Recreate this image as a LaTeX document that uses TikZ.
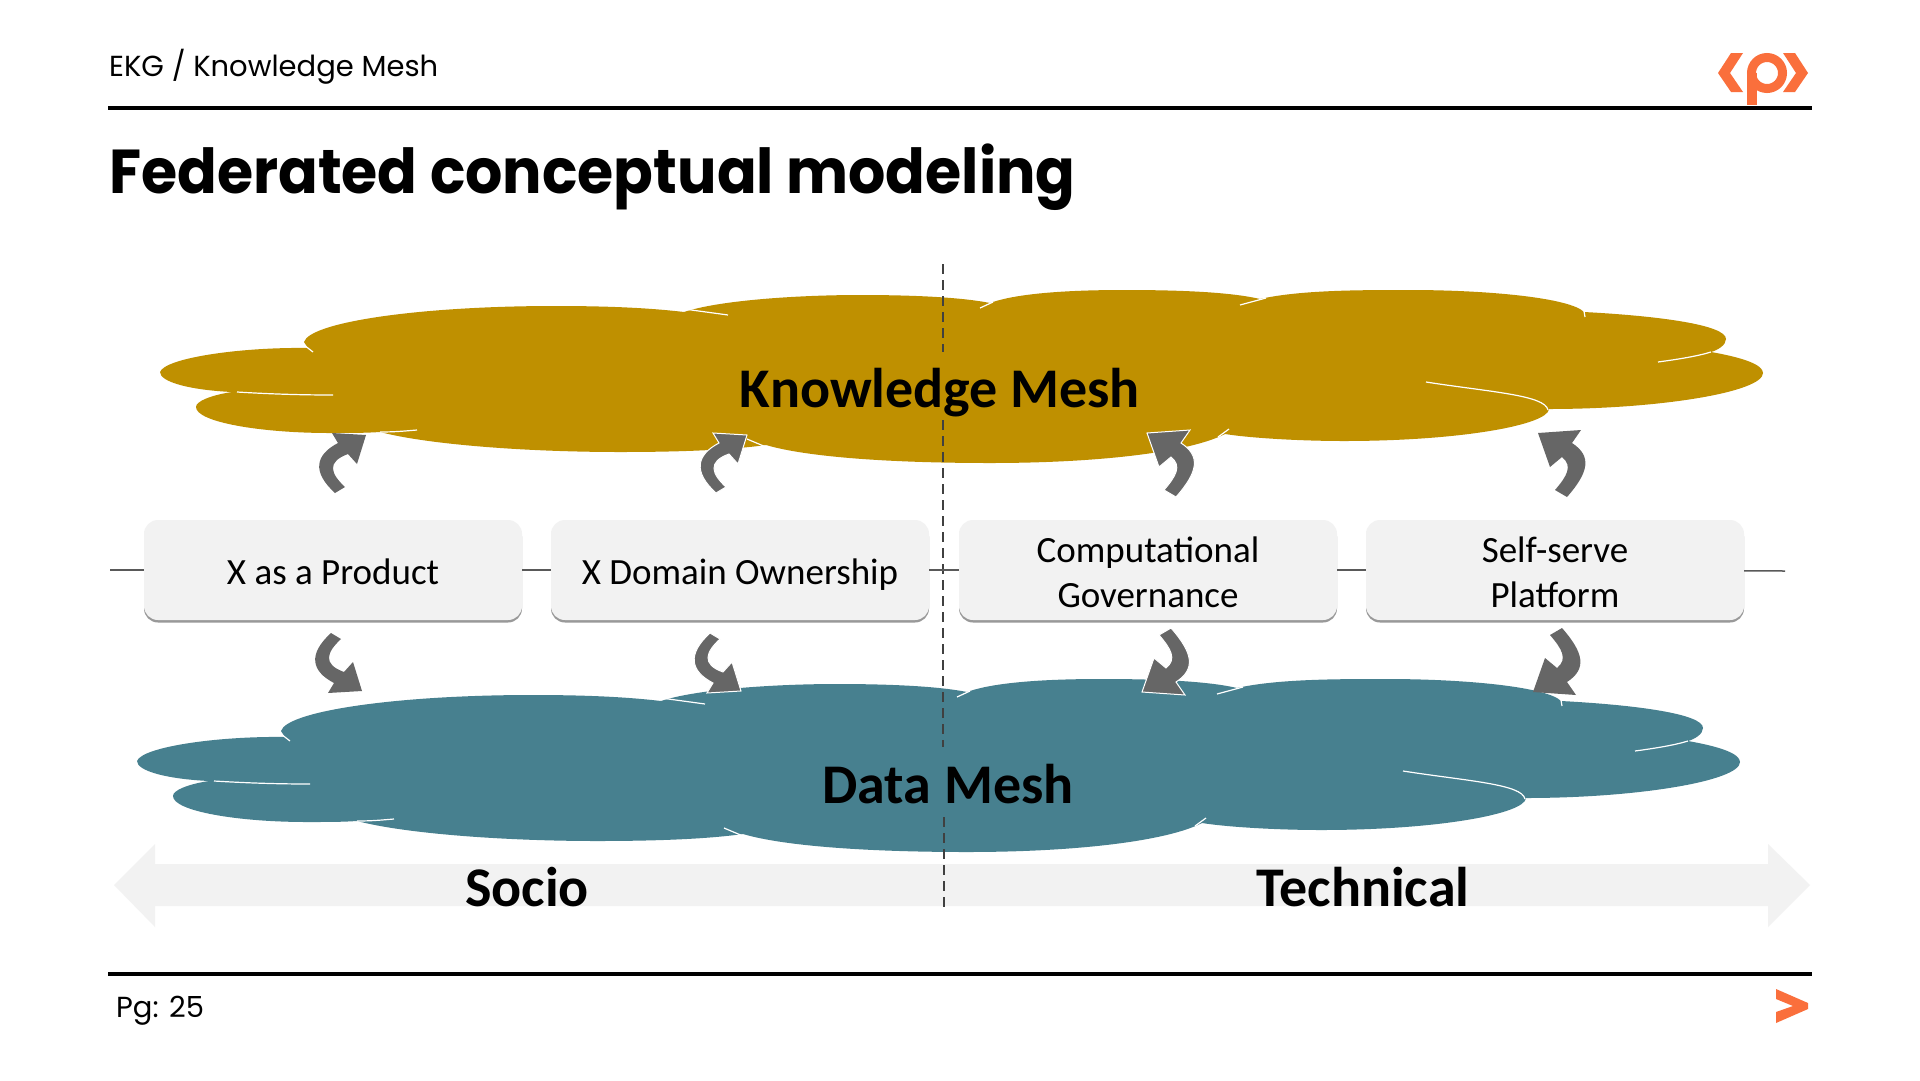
\documentclass[tikz,border=0pt]{standalone}
\usepackage{fontspec}
\setmainfont{Carlito}
\newfontfamily\headfont{Poppins}
\definecolor{gold}{HTML}{BF9000}
\definecolor{teal1}{HTML}{47808F}
\definecolor{boxfill}{HTML}{F2F2F2}
\definecolor{arrowgray}{HTML}{666666}
\definecolor{brand}{HTML}{FA6F3C}
\tikzset{
 rulebar/.style={line width=4pt,black},
 tile/.style={draw=none,fill=boxfill,rounded corners=14pt,minimum width=378pt,minimum height=100pt,
   preaction={fill=black!40,rounded corners=14pt,transform canvas={yshift=-2.5pt}}},
 tiletext/.style={align=center,font=\fontsize{37}{45.5}\selectfont,text=black,inner sep=0},
 link/.style={line width=1.5pt,draw=black!65},
 crease/.style={draw=white,line width=1.2pt},
 cloudlabel/.style={font=\fontsize{56}{62}\selectfont\bfseries,text=black},
 dashline/.style={draw=black!75,line width=2.4pt,dash pattern=on 10pt off 6pt},
 bentarrow/.style={fill=arrowgray},
 bentrim/.style={fill=arrowgray,draw=white,line width=1pt}
}
\newcommand{\cloudform}[1]{%
 \fill[#1] (160,372) .. controls (165,358) and (240,347) .. (308,348) -- (304,342)
  .. controls (310,322) and (420,306) .. (555,306)
  .. controls (610,306) and (650,308) .. (684,312)
  .. controls (720,300) and (800,295) .. (860,295)
  .. controls (910,295) and (960,297) .. (990,303)
  .. controls (1020,292) and (1080,290) .. (1124,290)
  .. controls (1180,290) and (1230,292) .. (1260,299)
  .. controls (1300,290) and (1360,290) .. (1409,290)
  .. controls (1490,290) and (1570,298) .. (1584,312)
  .. controls (1660,316) and (1726,325) .. (1726,339)
  .. controls (1726,345) and (1718,350) .. (1711,352)
  .. controls (1745,358) and (1763,365) .. (1763,373)
  .. controls (1763,392) and (1660,409) .. (1549,409)
  .. controls (1548,425) and (1460,441) .. (1344,441)
  .. controls (1300,441) and (1250,438) .. (1225,434)
  .. controls (1190,452) and (1100,463) .. (990,463)
  .. controls (900,463) and (810,458) .. (766,445)
  .. controls (730,450) and (680,452) .. (620,452)
  .. controls (530,452) and (430,445) .. (380,432)
  .. controls (365,433) and (350,433) .. (330,433)
  .. controls (260,433) and (196,422) .. (196,407)
  .. controls (196,401) and (212,395) .. (232,392)
  .. controls (190,390) and (160,382) .. (160,372) -- cycle;
 \draw[crease] (684,309) -- (728,315);
 \draw[crease] (304,345) -- (313,352);
 \draw[crease] (237,392) .. controls (270,394) and (300,395) .. (333,395);
 \draw[crease] (380,432) .. controls (395,432) and (405,431) .. (417,430);
 \draw[crease] (747,439) -- (766,447);
 \draw[crease] (980,308) -- (993,302);
 \draw[crease] (1240,305) -- (1266,298);
 \draw[crease] (1584,311) -- (1585,317);
 \draw[crease] (1658,362) .. controls (1680,359) and (1698,356) .. (1711,352);
 \draw[crease] (1426,382) .. controls (1490,392) and (1545,395) .. (1548,410);
 \draw[crease] (1229,429) -- (1218,437);
}
\newcommand{\bendright}[1]{% up arrow, bulging left, head to the right
 \path[#1] (335,493) .. controls (312,472) and (315,455) .. (338,443) -- (332,433) -- (366,435) -- (357,464) -- (348,454)
   .. controls (326,462) and (331,474) .. (345,487) -- cycle;}
\newcommand{\bendleft}[1]{% up arrow, bulging right, head to the left
 \path[#1] (1164,490) .. controls (1176,476) and (1182,466) .. (1171,457) -- (1159,467) -- (1147,433) -- (1190,430) -- (1181,443)
   .. controls (1201,456) and (1198,472) .. (1176,497) -- cycle;}
\begin{document}
\begin{tikzpicture}[x=1pt,y=-1pt]
\useasboundingbox (0,0) rectangle (1920,1080);
\fill[white] (0,0) rectangle (1920,1080);
% header
\node[anchor=west,font=\headfont\fontsize{29}{36}\selectfont,inner sep=0] (crumb) at (109,67) {EKG / Knowledge Mesh};
\coordinate (ruleTL) at (108,108); \coordinate (ruleTR) at (1812,108);
\draw[rulebar] (ruleTL) -- (ruleTR);
\node[anchor=west,font=\headfont\bfseries\fontsize{62}{70}\selectfont,inner sep=0] (title) at (109,177) {\scalebox{.945}[1]{Federated conceptual modeling}};
% logo
\fill[brand] (1718,73) -- (1731,53) -- (1743,53) -- (1730,73) -- (1743,92) -- (1731,92) -- cycle;
\fill[brand] (1808,73) -- (1795,53) -- (1783,53) -- (1796,73) -- (1783,92) -- (1795,92) -- cycle;
\draw[brand,line width=9pt] (1767,73) circle (15.5);
\fill[brand] (1747,73) rectangle (1757,105);
% double arrow
\fill[boxfill] (114,885) -- (155,844) -- (155,864) -- (1768,864) -- (1768,844) -- (1810,885) -- (1768,927) -- (1768,906) -- (155,906) -- (155,927) -- cycle;
% clouds
\cloudform{gold}
\begin{scope}[shift={(-23,389)}]
 \cloudform{teal1}
\end{scope}
% dashed divider
\coordinate (d0) at (943,264); \coordinate (d1) at (943,352);
\coordinate (d2) at (943,420); \coordinate (d3) at (943,747);
\coordinate (d4) at (944,817); \coordinate (d5) at (944,908);
\draw[dashline] (d0) -- (d1);
\draw[dashline] (d2) -- (d3);
\draw[dashline] (d4) -- (d5);
% concept boxes
\coordinate (lineL) at (110,570); \coordinate (lineR) at (1785,571);
\node[tile] (b1) at (333,570) {};
\node[tile] (b2) at (740,570) {};
\node[tile] (b3) at (1148,570) {};
\node[tile] (b4) at (1555,570) {};
\node[tiletext] (t1) at (333,575) {\strut X as a Product};
\node[tiletext] (t2) at (740,575) {\strut X Domain Ownership};
\node[tiletext] (t3) at (1148,576) {\strut Computational\\\strut Governance};
\node[tiletext] (t4) at (1555,576) {\strut Self-serve\\\strut Platform};
\draw[link] (lineL) -- (b1);
\draw[link] (b1) -- (b2);
\draw[link] (b2) -- (b3);
\draw[link] (b3) -- (b4);
\draw[link] (b4) -- (lineR);
% bent arrows
\bendright{bentarrow}
\begin{scope}[shift={(381,0)}]\bendright{bentrim}\end{scope}
\bendleft{bentrim}
\begin{scope}[shift={(391,0)}]\bendleft{bentarrow}\end{scope}
\begin{scope}[shift={(-4,1126)},yscale=-1]\bendright{bentarrow}\end{scope}
\begin{scope}[shift={(375,1126)},yscale=-1]\bendright{bentrim}\end{scope}
\begin{scope}[shift={(-5,1125)},yscale=-1]\bendleft{bentrim}\end{scope}
\begin{scope}[shift={(386,1125)},yscale=-1]\bendleft{bentarrow}\end{scope}
% labels
\node[cloudlabel] (km) at (940,393) {Knowledge Mesh};
\node[cloudlabel] (dm) at (948,784) {Data Mesh};
\node[cloudlabel] (socio) at (527,887) {Socio};
\node[cloudlabel] (tech) at (1363,887) {Technical};
% footer
\coordinate (ruleBL) at (108,974); \coordinate (ruleBR) at (1812,974);
\draw[rulebar] (ruleBL) -- (ruleBR);
\node[anchor=west,font=\headfont\fontsize{29}{34}\selectfont,inner sep=0] (pg) at (116,1011) {Pg: 25};
\fill[brand] (1776,989) -- (1808,1003) -- (1808,1009) -- (1776,1023) -- (1776,1012) -- (1793,1006) -- (1776,999) -- cycle;
\end{tikzpicture}
\end{document}
